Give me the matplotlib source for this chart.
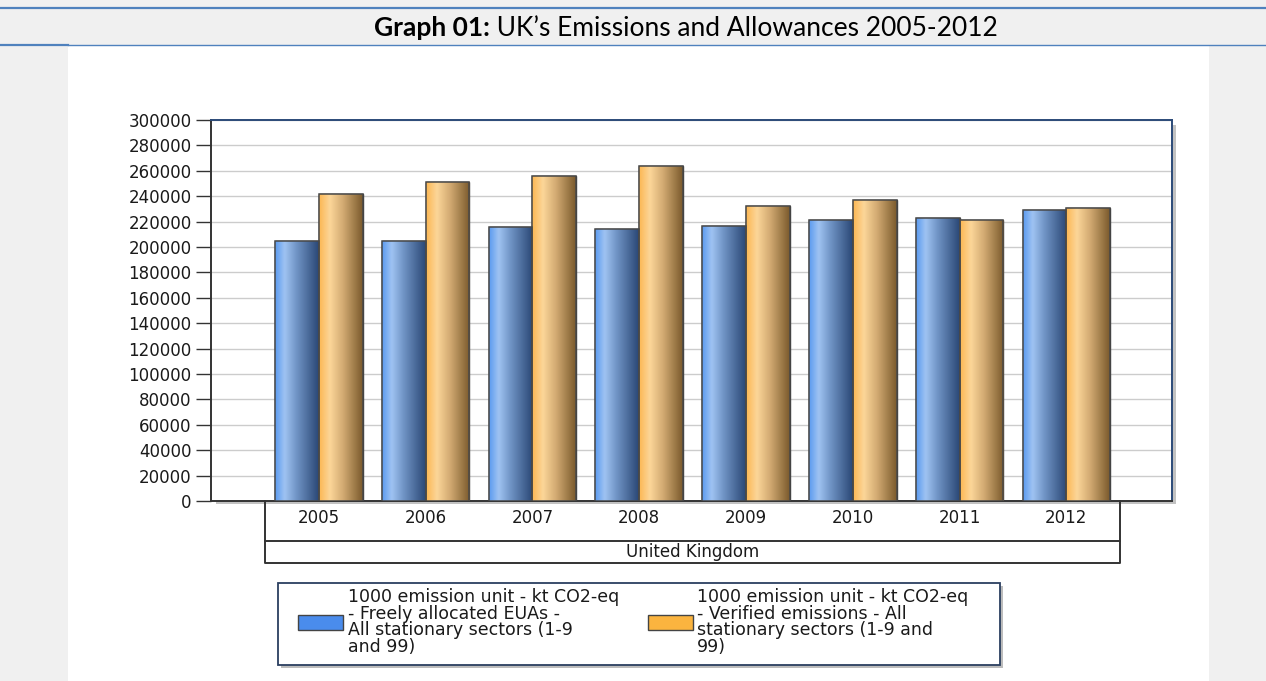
import numpy as np
import matplotlib
matplotlib.use("Agg")
import matplotlib.pyplot as plt
from matplotlib.colors import LinearSegmentedColormap
from matplotlib.patches import Rectangle
from matplotlib.lines import Line2D
import matplotlib.transforms as mtransforms

# Data (kt CO2-eq)
years = ["2005", "2006", "2007", "2008", "2009", "2010", "2011", "2012"]
allocated = [205000, 205000, 215500, 214500, 216500, 221000, 222800, 228800]
verified = [242000, 251000, 256000, 264000, 232000, 237200, 221000, 230900]
country = "United Kingdom"
legend_labels = [
    "1000 emission unit - kt CO2-eq\n- Freely allocated EUAs -\nAll stationary sectors (1-9\nand 99)",
    "1000 emission unit - kt CO2-eq\n- Verified emissions - All\nstationary sectors (1-9 and\n99)",
]
yticks = list(range(0, 300001, 20000))

W, H = 1266, 681
fig = plt.figure(figsize=(W / 100, H / 100), dpi=100)
fig.patch.set_facecolor("#f0f0f0")


def fx(px):
    return px / W


def fy(py):
    return 1 - py / H


# page background: white panel, header band with blue rules
fig.patches.append(Rectangle((fx(68), 0), fx(1209) - fx(68), fy(45), transform=fig.transFigure,
                             facecolor="white", edgecolor="none", zorder=-2))
rule = "#4f81bd"
fig.lines.append(Line2D([0, 1], [fy(7.5), fy(7.5)], transform=fig.transFigure, color=rule, lw=1.6))
fig.lines.append(Line2D([0, fx(68)], [fy(45), fy(45)], transform=fig.transFigure, color=rule, lw=1.6))
fig.lines.append(Line2D([fx(68), 1], [fy(44.5), fy(44.5)], transform=fig.transFigure, color=rule, lw=1.0))

# Title: bold part + regular part, centred together
tfont = "Lato"
t1 = fig.text(0, fy(28), "Graph 01:", fontsize=19, fontweight="bold", family=tfont,
              va="center", ha="left", color="black")
t2 = fig.text(0, fy(28), " UK\u2019s Emissions and Allowances 2005-2012", fontsize=19,
              family=tfont, va="center", ha="left", color="black")
r = fig.canvas.get_renderer()
w1 = t1.get_window_extent(r).width
w2 = t2.get_window_extent(r).width
x0 = 686 - (w1 + w2) / 2
t1.set_x(fx(x0))
t2.set_x(fx(x0 + w1))

# Axes
ax = fig.add_axes([fx(211), fy(501), fx(1172) - fx(211), fy(120) - fy(501)], zorder=1)

x = np.arange(len(years))
bw = 0.41
b1 = ax.bar(x - bw / 2, allocated, bw, facecolor="#5b9cf2", edgecolor="#3a3a3a", lw=1.0, zorder=3)
b2 = ax.bar(x + bw / 2, verified, bw, facecolor="#fcb955", edgecolor="#3a3a3a", lw=1.0, zorder=3)

# horizontal shading of each bar
blue_cm = LinearSegmentedColormap.from_list(
    "b", [(0, "#5a9af0"), (0.22, "#9fc3f2"), (0.5, "#6f93c4"), (1, "#2a4775")])
orange_cm = LinearSegmentedColormap.from_list(
    "o", [(0, "#fcb752"), (0.25, "#fcd699"), (0.55, "#d2aa72"), (1, "#7a5a2c")])
grad = np.linspace(0, 1, 256).reshape(1, -1)
for bars, cm in ((b1, blue_cm), (b2, orange_cm)):
    for b in bars:
        bx, by = b.get_x(), b.get_y()
        im = ax.imshow(grad, cmap=cm, aspect="auto", interpolation="bicubic",
                       extent=(bx, bx + b.get_width(), by, by + b.get_height()), zorder=3.5)
        im.set_clip_path(b)
    for b in bars:
        ax.add_patch(Rectangle((b.get_x(), b.get_y()), b.get_width(), b.get_height(),
                               facecolor="none", edgecolor="#484848", lw=1.1, zorder=4))
ax.set_xlim(-1.01, 7.99)
ax.set_ylim(0, 300000)

ax.set_yticks(yticks)
ax.set_yticklabels([str(v) for v in yticks])
ax.yaxis.grid(True, color="#cccccc", lw=1.0, zorder=0)
ax.set_axisbelow(True)
ax.tick_params(axis="y", length=11, width=1.0, color="#333333", labelsize=12,
               labelcolor="#1a1a1a", pad=3)
ax.set_xticks(x)
ax.set_xticklabels(years)
ax.tick_params(axis="x", length=0, labelsize=12, labelcolor="#1a1a1a", pad=6)
for lab in ax.get_xticklabels() + ax.get_yticklabels():
    lab.set_family("DejaVu Sans")

ax.spines["left"].set_color("#333333")
ax.spines["bottom"].set_color("#333333")
ax.spines["top"].set_color("#2b4a78")
ax.spines["right"].set_color("#2b4a78")
for s in ax.spines.values():
    s.set_linewidth(1.4)

# drop shadow of plot area
pos = ax.get_position()
fig.patches.append(Rectangle((pos.x1, pos.y0 - 3 / H), 3.5 / W, pos.height - 2 / H,
                             transform=fig.transFigure, facecolor="#9a9a9a", edgecolor="none",
                             alpha=0.6, zorder=-1))
fig.patches.append(Rectangle((pos.x0 + 5 / W, pos.y0 - 3 / H), pos.width - 5 / W, 3 / H,
                             transform=fig.transFigure, facecolor="#9a9a9a", edgecolor="none",
                             alpha=0.6, zorder=-1))

# category box below the axis
trans = mtransforms.blended_transform_factory(ax.transData, ax.transAxes)
yb = -(562.5 - 501) / 381
ym = -(541 - 501) / 381
ax.add_line(Line2D([-0.5, -0.5, 7.5, 7.5], [0, yb, yb, 0], transform=trans, color="#333333",
                   lw=1.4, clip_on=False))
ax.add_line(Line2D([-0.5, 7.5], [ym, ym], transform=trans, color="#333333", lw=1.4, clip_on=False))
ax.text(3.5, (yb + ym) / 2, country, transform=trans, ha="center", va="center", fontsize=12,
        color="#1a1a1a", family="DejaVu Sans")

# legend box
fig.patches.append(Rectangle((fx(281), fy(668)), fx(1003) - fx(281), fy(586) - fy(668),
                             transform=fig.transFigure, facecolor="#a0a0a0", edgecolor="none",
                             alpha=0.7, zorder=1))
fig.patches.append(Rectangle((fx(278), fy(665)), fx(1000) - fx(278), fy(583) - fy(665),
                             transform=fig.transFigure, facecolor="white", edgecolor="#2b3f60",
                             lw=1.3, zorder=2))
swatch = ["#4a8cec", "#fbb43f"]
sx = [298, 648]
tx = [348, 697]
for i in range(2):
    fig.patches.append(Rectangle((fx(sx[i]), fy(630)), fx(45), fy(615) - fy(630),
                                 transform=fig.transFigure, facecolor=swatch[i],
                                 edgecolor="#444444", lw=1.0, zorder=3))
    fig.text(fx(tx[i]), fy(622), legend_labels[i], fontsize=12.5, family="DejaVu Sans",
             va="center", ha="left", linespacing=0.92, color="#1a1a1a", zorder=3)

fig.savefig("out.png", dpi=100, facecolor=fig.get_facecolor())
